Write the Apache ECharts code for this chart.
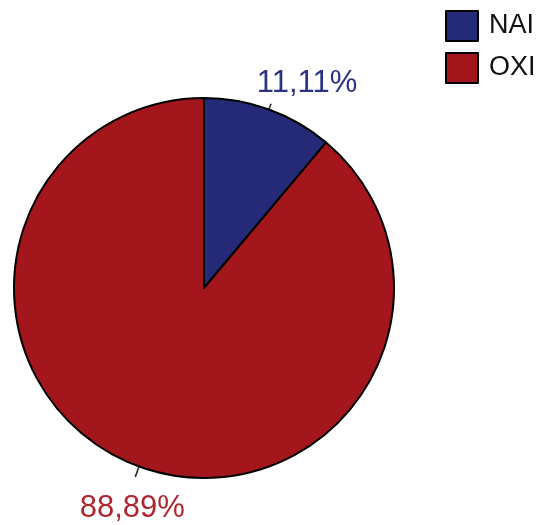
<!DOCTYPE html>
<html>
<head>
<meta charset="utf-8">
<script src="https://cdn.jsdelivr.net/npm/echarts@6/dist/echarts.min.js"></script>
<style>html,body{margin:0;padding:0;background:#fff}#c{width:540px;height:525px}</style>
</head>
<body>
<div id="c"></div>
<script>
const categories = ['NAI', 'OXI'];
const values = [11.11, 88.89];
const colors = ['#252a78', '#a3161b'];
const labelColors = ['#2b3383', '#b0262e'];
const lineLengths = [6, 11];

const chart = echarts.init(document.getElementById('c'), null, {renderer: 'canvas'});
chart.setOption({
  animation: false,
  backgroundColor: '#ffffff',
  legend: {
    orient: 'vertical',
    left: 445,
    top: 10,
    itemWidth: 32,
    itemHeight: 30,
    itemGap: 10,
    icon: 'rect',
    padding: 0,
    data: categories,
    itemStyle: {borderColor: '#000', borderWidth: 2},
    textStyle: {fontFamily: 'Liberation Sans', fontSize: 27, color: '#111', padding: [0, 0, 0, 6]}
  },
  series: [{
    type: 'pie',
    center: [204, 288],
    radius: 190,
    startAngle: 90,
    clockwise: true,
    avoidLabelOverlap: false,
    itemStyle: {borderColor: '#000', borderWidth: 2},
    label: {
      show: true,
      position: 'outside',
      fontFamily: 'Liberation Sans',
      fontSize: 31,
      formatter: p => p.value.toFixed(2).replace('.', ',') + '%'
    },
    labelLine: {show: true, length: 8, length2: 0, smooth: false, lineStyle: {color: '#222', width: 1.5}},
    labelLayout: function (p) {
      const pts = p.labelLinePoints;
      if (!pts) return {};
      const end = pts[pts.length - 1];
      if (p.dataIndex === 0) {
        return {x: end[0] + 36, y: end[1] - 5, align: 'center', verticalAlign: 'bottom', labelLinePoints: pts};
      }
      return {x: end[0] - 3, y: end[1] + 16, align: 'center', verticalAlign: 'top', labelLinePoints: pts};
    },
    data: categories.map((n, i) => ({
      name: n, value: values[i],
      itemStyle: {color: colors[i]},
      label: {color: labelColors[i]},
      labelLine: {length: lineLengths[i], length2: 0}
    }))
  }]
});
</script>
</body>
</html>
